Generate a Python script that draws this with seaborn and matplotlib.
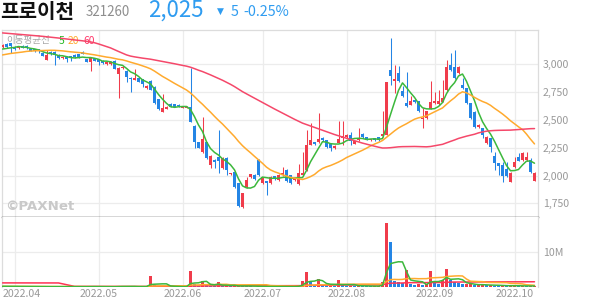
import numpy as np
import pandas as pd
import matplotlib
matplotlib.use("Agg")
import matplotlib.pyplot as plt
import seaborn as sns
from matplotlib.transforms import blended_transform_factory

# ---------------- data ----------------
stock_name = "프로이천"
stock_code = "321260"
last_price = "2,025"
change_abs = "5"
change_pct = "-0.25%"

trade_start = "2022-03-29"
trade_end = "2022-10-12"
kr_holidays = ["2022-05-05", "2022-06-01", "2022-06-06", "2022-08-15",
               "2022-09-09", "2022-09-12", "2022-10-03", "2022-10-10"]

opens = [3158, 3183, 3189, 3158, 3145, 3168, 3168, 3135, 3135, 3133,
         3105, 3040, 3113, 3110, 3084, 3054, 3068, 3075, 3084, 3093,
         3113, 3045, 3023, 3054, 3045, 3032, 3000, 3000, 3030, 2910,
         2964, 2940, 2879, 2859, 2874, 2868, 2784, 2850, 2799, 2688,
         2573, 2598, 2643, 2640, 2636, 2610, 2611, 2619, 2447, 2298,
         2213, 2298, 2094, 2139, 2166, 2067, 2157, 2013, 2031, 1932,
         1716, 1896, 1985, 2004, 2139, 1932, 1950, 1932, 1995, 1959,
         2004, 2049, 2004, 1959, 1923, 2004, 2049, 2274, 2301, 2301,
         2337, 2316, 2292, 2247, 2292, 2334, 2346, 2366, 2285, 2316,
         2373, 2346, 2316, 2337, 2343, 2352, 2366, 2951, 2847, 2922,
         2757, 2652, 2636, 2682, 2667, 2508, 2517, 2598, 2649, 2643,
         2663, 2769, 2990, 2978, 2919, 2814, 2784, 2649, 2573, 2433,
         2424, 2289, 2334, 2175, 2109, 2094, 2055, 1943, 2078, 2168,
         2139, 2139, 2139, 1953]
highs = [3180, 3190, 3195, 3165, 3165, 3172, 3170, 3140, 3140, 3135,
         3110, 3129, 3118, 3115, 3090, 3072, 3070, 3078, 3088, 3096,
         3118, 3050, 3058, 3058, 3048, 3036, 3027, 3025, 3034, 2975,
         2985, 2945, 2882, 2958, 2880, 2872, 2810, 2855, 2805, 2692,
         2730, 2625, 2648, 2645, 2640, 2625, 2624, 2964, 2452, 2305,
         2528, 2305, 2182, 2145, 2409, 2162, 2162, 2027, 2036, 1937,
         1847, 1988, 2018, 2010, 2145, 1990, 1955, 1992, 2000, 2010,
         2076, 2055, 2008, 1982, 2103, 2213, 2409, 2472, 2305, 2562,
         2342, 2320, 2296, 2270, 2490, 2490, 2370, 2390, 2312, 2427,
         2378, 2350, 2332, 2340, 2347, 2580, 2845, 3237, 2996, 2982,
         2802, 2928, 2712, 2688, 2672, 2607, 2582, 2850, 2753, 2769,
         2859, 3039, 3100, 3128, 2982, 2880, 2790, 2655, 2580, 2460,
         2430, 2355, 2340, 2213, 2115, 2124, 2124, 2030, 2168, 2198,
         2213, 2213, 2154, 2030]
lows = [3150, 3150, 3099, 3130, 3135, 3145, 3140, 3115, 3110, 3105,
        3070, 3035, 3085, 2994, 3050, 3050, 3023, 3032, 3058, 3060,
        3088, 3018, 2942, 3025, 2994, 3003, 2995, 2996, 2955, 2694,
        2960, 2838, 2748, 2855, 2838, 2800, 2780, 2765, 2640, 2590,
        2568, 2594, 2615, 2612, 2620, 2605, 2607, 2480, 2250, 2245,
        2205, 2148, 2067, 2064, 2022, 2060, 2004, 2008, 1890, 1716,
        1710, 1890, 1980, 1960, 2000, 1928, 1824, 1928, 1962, 1955,
        2000, 1945, 1928, 1955, 1918, 1998, 2045, 2270, 2278, 2296,
        2312, 2250, 2220, 2242, 2288, 2276, 2340, 2276, 2280, 2312,
        2340, 2318, 2312, 2312, 2312, 2348, 2362, 2816, 2742, 2840,
        2705, 2620, 2630, 2652, 2570, 2427, 2512, 2594, 2645, 2638,
        2658, 2764, 2940, 2868, 2914, 2780, 2643, 2508, 2430, 2428,
        2334, 2284, 2213, 2049, 2004, 1944, 1990, 1938, 2070, 2128,
        2134, 2134, 2020, 1948]
closes = [3174, 3158, 3165, 3140, 3160, 3150, 3145, 3120, 3115, 3115,
          3075, 3084, 3093, 3083, 3054, 3068, 3045, 3054, 3063, 3068,
          3093, 3023, 3054, 3032, 3023, 3009, 3023, 3023, 2958, 2969,
          2978, 2888, 2865, 2879, 2844, 2820, 2805, 2769, 2649, 2598,
          2609, 2619, 2619, 2619, 2625, 2619, 2620, 2483, 2298, 2250,
          2328, 2160, 2177, 2124, 2130, 2157, 2049, 2022, 1896, 1725,
          1842, 1959, 2013, 1968, 2004, 1986, 1932, 1986, 1968, 2004,
          2022, 1950, 1932, 1977, 2022, 2022, 2274, 2319, 2283, 2328,
          2316, 2256, 2247, 2267, 2328, 2357, 2366, 2307, 2307, 2337,
          2346, 2322, 2328, 2316, 2316, 2376, 2838, 2897, 2868, 2847,
          2712, 2627, 2667, 2658, 2577, 2517, 2577, 2661, 2673, 2673,
          2697, 2975, 2950, 2874, 2978, 2784, 2649, 2514, 2438, 2454,
          2364, 2349, 2258, 2115, 2085, 1995, 1995, 2024, 2124, 2132,
          2198, 2168, 2030, 2025]
# volume in thousands of shares
volumes_k = [200, 150, 120, 100, 150, 100, 120, 100, 100, 80,
             150, 120, 100, 150, 100, 80, 100, 100, 80, 100,
             120, 100, 200, 100, 80, 80, 100, 80, 120, 300,
             150, 150, 150, 100, 80, 120, 150, 3100, 600, 400,
             300, 150, 100, 100, 80, 80, 100, 4600, 900, 400,
             1650, 600, 300, 200, 1400, 300, 300, 150, 300, 500,
             300, 200, 150, 100, 250, 150, 120, 100, 100, 100,
             150, 150, 100, 80, 400, 1750, 4400, 1500, 500, 2200,
             500, 400, 400, 300, 1900, 500, 350, 400, 300, 350,
             300, 250, 200, 200, 300, 1500, 18600, 13100, 1750, 1500,
             1200, 4900, 800, 500, 800, 500, 800, 4600, 1200, 800,
             2100, 5100, 1900, 1500, 1200, 800, 800, 800, 500, 500,
             800, 500, 500, 400, 300, 500, 300, 300, 400, 300,
             300, 250, 300, 300]
# history before the window (warm-up for the moving averages)
prior_closes = [3350, 3340, 3360, 3330, 3310, 3300, 3320, 3290, 3280, 3300,
                3310, 3320, 3300, 3290, 3310, 3330, 3320, 3300, 3310, 3330,
                3340, 3320, 3500, 3650, 3720, 3760, 3720, 3950, 3900, 3880,
                3840, 3500, 3300, 3200, 3150, 3100, 3050, 3050, 3000, 3000,
                3020, 3040, 3060, 3080, 3050, 3030, 3060, 3070, 3090, 3060,
                3050, 3070, 3090, 3100, 3120, 3130, 3140, 3120, 3120]
prior_volumes_k = [200, 200, 200, 200, 200, 200, 200, 200, 200, 200,
                   200, 200, 200, 200, 15000, 15000, 15000, 15000, 200, 200,
                   200, 200, 200, 200, 200, 200, 200, 200, 200, 200,
                   200, 200, 200, 200, 200, 200, 200, 200, 200, 200,
                   200, 200, 200, 200, 200, 200, 200, 200, 200, 200,
                   200, 200, 200, 200, 200, 200, 200, 200, 200]
ma_windows = [5, 20, 60]
price_ticks = [1750, 2000, 2250, 2500, 2750, 3000]
vol_tick = 10_000_000
vol_tick_label = "10M"

# ---------------- derived ----------------
dates = pd.bdate_range(trade_start, trade_end).difference(pd.to_datetime(kr_holidays))
n = len(closes)
idx = np.arange(n)
o = np.array(opens, float); c = np.array(closes, float)
h = np.array(highs, float); l = np.array(lows, float)
vol = np.array(volumes_k, float) * 1000
npr = len(prior_closes)
full_c = pd.Series(prior_closes + closes, dtype=float)
full_v = pd.Series(prior_volumes_k + volumes_k, dtype=float) * 1000
ma_df = pd.DataFrame({"idx": idx})
for w in ma_windows:
    ma_df[f"p{w}"] = full_c.rolling(w).mean().iloc[npr:].values
    ma_df[f"v{w}"] = full_v.rolling(w).mean().iloc[npr:].values
month_idx = [i for i in range(1, n) if dates[i].month != dates[i - 1].month]
month_lbl = [dates[i].strftime("%Y.%m") for i in month_idx]

# ---------------- style ----------------
sns.set_theme(style="white")
plt.rcParams["font.family"] = ["Noto Sans CJK KR", "DejaVu Sans"]
RED = "#f03c4b"
BLUE = "#2485e5"
MA_COLORS = {5: "#3cb83c", 20: "#ffaa2e", 60: "#f5486a"}
GRID = "#ececec"
TXT = "#999999"

W, H = 594, 304
fig = plt.figure(figsize=(W / 100, H / 100), dpi=100)
fig.patch.set_facecolor("white")

def fx(px): return px / W
def fy(py): return 1 - py / H

ax_p = fig.add_axes([fx(2), fy(217), fx(536), (217 - 30) / H])
ax_v = fig.add_axes([fx(2), fy(287), fx(536), (287 - 217) / H])

xlim = (-0.125, n - 0.125)
up = c >= o
cols = np.where(up, RED, BLUE)

# candles
ax_p.vlines(idx, l, h, colors=cols, linewidth=0.75, zorder=3)
body_lo = np.minimum(o, c)
body_h = np.maximum(np.abs(c - o), 6)
ax_p.bar(idx, body_h, bottom=body_lo, width=0.75, color=cols, linewidth=0, zorder=4)

for w in ma_windows:
    sns.lineplot(data=ma_df, x="idx", y=f"p{w}", ax=ax_p, color=MA_COLORS[w],
                 linewidth=1.1, legend=False, zorder=5)

ax_p.set_xlim(*xlim)
ax_p.set_ylim(1627, 3308)
ax_p.set_xticks(month_idx)
ax_p.set_xticklabels([])
ax_p.set_yticks(price_ticks)
ax_p.set_yticklabels([f"{t:,}" for t in price_ticks])
ax_p.yaxis.tick_right()
ax_p.tick_params(axis="y", length=0, pad=3.5, labelsize=7.6, labelcolor=TXT)
ax_p.tick_params(axis="x", length=0)
ax_p.grid(True, color=GRID, linewidth=0.9, zorder=0)
ax_p.set_axisbelow(True)
ax_p.set_xlabel(""); ax_p.set_ylabel("")
for s in ["left", "right", "top"]:
    ax_p.spines[s].set_color("#dcdcdc"); ax_p.spines[s].set_linewidth(0.9)
ax_p.spines["bottom"].set_color("#333333"); ax_p.spines["bottom"].set_linewidth(1.0)

# volume
prev_v = np.concatenate([[prior_volumes_k[-1] * 1000], vol[:-1]])
vcols = np.where(vol >= prev_v, RED, BLUE)
ax_v.bar(idx, vol, width=0.75, color=vcols, linewidth=0, zorder=3)
for w in [60, 20, 5]:
    sns.lineplot(data=ma_df, x="idx", y=f"v{w}", ax=ax_v, color=MA_COLORS[w] if w != 60 else "#ff3355",
                 linewidth=1.1, legend=False, zorder=5)
ax_v.set_xlim(*xlim)
ax_v.set_ylim(0, 20.2e6)
ax_v.set_yticks([vol_tick])
ax_v.set_yticklabels([vol_tick_label])
ax_v.yaxis.tick_right()
ax_v.tick_params(axis="y", length=0, pad=3.5, labelsize=7.6, labelcolor=TXT)
ax_v.set_xticks(month_idx)
ax_v.set_xticklabels([])
ax_v.tick_params(axis="x", length=0)
ax_v.grid(True, color=GRID, linewidth=0.9, zorder=0)
ax_v.set_axisbelow(True)
ax_v.set_xlabel(""); ax_v.set_ylabel("")
for s in ["left", "right"]:
    ax_v.spines[s].set_color("#dcdcdc"); ax_v.spines[s].set_linewidth(0.9)
ax_v.spines["top"].set_visible(False)
ax_v.spines["bottom"].set_visible(False)

tr = blended_transform_factory(ax_v.transData, ax_v.transAxes)
for k, (i, lb) in enumerate(zip(month_idx, month_lbl)):
    if k == 0:
        ax_v.text(xlim[0] + 0.15, -0.095, lb, transform=tr, ha="left", va="center",
                  fontsize=7.6, color=TXT)
    else:
        ax_v.text(i, -0.095, lb, transform=tr, ha="center", va="center",
                  fontsize=7.6, color=TXT)

# legend / labels inside price panel
ax_p.text(fx(6.5), fy(41), "이동평균선", transform=fig.transFigure, fontsize=6.9,
          color="#a8a8a8", va="center", ha="left")
ax_p.text(fx(58.5), fy(41), "5", transform=fig.transFigure, fontsize=7.4,
          color="#22b822", va="center", ha="left")
ax_p.text(fx(67.5), fy(41), "20", transform=fig.transFigure, fontsize=7.4,
          color="#ffaa2e", va="center", ha="left")
ax_p.text(fx(83.5), fy(41), "60", transform=fig.transFigure, fontsize=7.4,
          color="#ff3366", va="center", ha="left")
fig.text(fx(5), fy(206.5), "©PAXNet", fontsize=9.6, fontweight="bold",
         color="#c9c9c9", va="center", ha="left", family=["DejaVu Sans"])

# header
fig.text(fx(0), fy(11), stock_name, fontsize=14.5, fontweight="bold", color="#111111",
         va="center", ha="left")
fig.text(fx(86), fy(12), stock_code, fontsize=9.6, color="#8e8e8e", va="center", ha="left")
fig.text(fx(148), fy(10), last_price, fontsize=16, color="#2f9cf0", va="center", ha="left")
fig.text(fx(216.5), fy(11), "▼", fontsize=6.5, color="#2f9cf0", va="center", ha="left",
         family=["DejaVu Sans"])
fig.text(fx(230.5), fy(12), change_abs, fontsize=10.3, color="#2f9cf0", va="center", ha="left")
fig.text(fx(243), fy(12), change_pct, fontsize=10.3, color="#2f9cf0", va="center", ha="left")

fig.savefig("out.png", dpi=100, facecolor="white")
